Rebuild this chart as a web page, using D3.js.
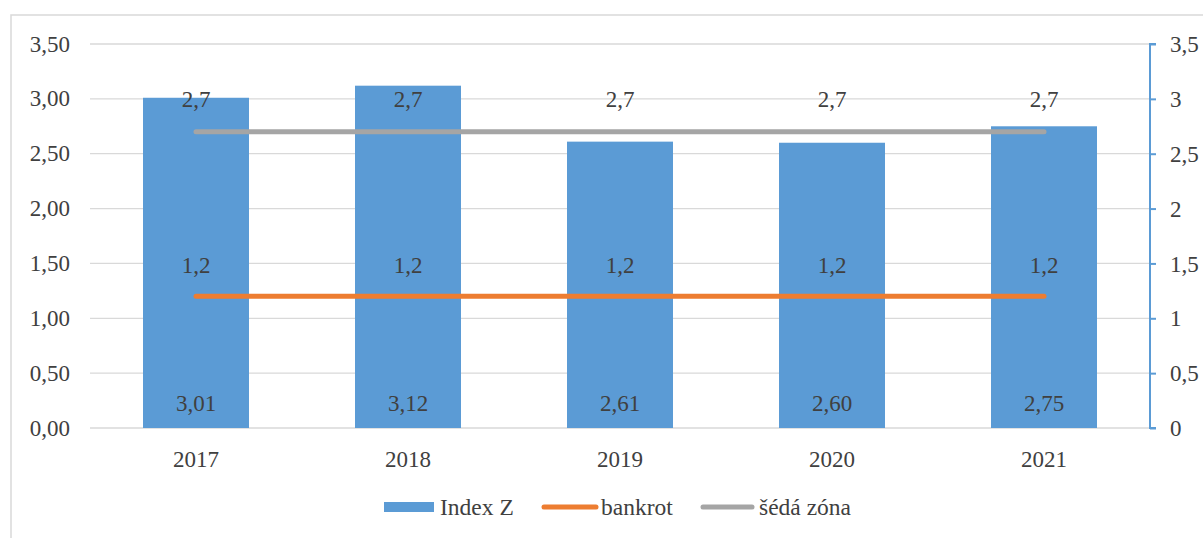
<!DOCTYPE html>
<html>
<head>
<meta charset="utf-8">
<script src="https://cdn.jsdelivr.net/npm/d3@7"></script>
<style>
  html, body { margin: 0; padding: 0; background: #fff; }
  svg { display: block; }
  svg text { font-family: "Liberation Serif", Tinos, "Times New Roman", "DejaVu Serif", serif !important; fill: #404040; }
</style>
</head>
<body>
<svg id="chart" width="1203" height="538" font-family="Liberation Serif, serif"></svg>
<script>
// Altman Z-score per year with the bankruptcy and grey-zone thresholds
const years = ["2017", "2018", "2019", "2020", "2021"];
const indexZ = [3.01, 3.12, 2.61, 2.60, 2.75];
const bankrot = [1.2, 1.2, 1.2, 1.2, 1.2];
const sedaZona = [2.7, 2.7, 2.7, 2.7, 2.7];
const leftTicks = [0, 0.5, 1, 1.5, 2, 2.5, 3, 3.5];
const rightTicks = [0, 0.5, 1, 1.5, 2, 2.5, 3, 3.5];

const colors = { bar: "#5B9BD5", bankrot: "#ED7D31", seda: "#A5A5A5", grid: "#D9D9D9" };
const fmt2 = d => d.toFixed(2).replace(".", ",");
const fmtR = d => String(d).replace(".", ",");
const FS = 23;
const FONT = "Liberation Serif, serif";

const svg = d3.select("#chart");

// chart frame
svg.append("rect")
  .attr("x", 11).attr("y", 15).attr("width", 1210).attr("height", 540)
  .attr("fill", "none").attr("stroke", colors.grid).attr("stroke-width", 1.5);

const plot = { left: 90, right: 1150, top: 44, bottom: 428 };

const x = d3.scaleBand().domain(years).range([plot.left, plot.right]).paddingInner(0).paddingOuter(0);
const y = d3.scaleLinear().domain([0, 3.5]).range([plot.bottom, plot.top]);
const y2 = d3.scaleLinear().domain([0, 3.5]).range([plot.bottom, plot.top]);

// gridlines
svg.append("g").selectAll("line").data(leftTicks).join("line")
  .attr("x1", plot.left).attr("x2", plot.right)
  .attr("y1", d => y(d)).attr("y2", d => y(d))
  .attr("stroke", colors.grid).attr("stroke-width", 1.3);

// left axis labels
svg.append("g").selectAll("text").data(leftTicks).join("text")
  .attr("x", 70).attr("y", d => y(d)).attr("dy", "0.33em")
  .attr("text-anchor", "end").attr("font-size", FS).attr("font-family", FONT)
  .text(fmt2);

// right axis
const rightAxis = d3.axisRight(y2).tickValues(rightTicks).tickSize(6).tickFormat(fmtR);
const gR = svg.append("g").attr("transform", `translate(${plot.right},0)`).call(rightAxis)
  .attr("font-family", FONT).attr("font-size", FS);
gR.select(".domain").attr("stroke", colors.bar).attr("stroke-width", 2).attr("d", `M6,${plot.top}H0V${plot.bottom}H6`);
gR.selectAll(".tick line").attr("stroke", colors.bar).attr("stroke-width", 2);
gR.selectAll(".tick text")
  .attr("x", 20).attr("dy", "0.33em").attr("text-anchor", "start").attr("fill", "#404040");

// bars
const barW = x.bandwidth() * 0.5;
svg.append("g").selectAll("rect").data(indexZ).join("rect")
  .attr("x", (d, i) => x(years[i]) + (x.bandwidth() - barW) / 2)
  .attr("y", d => y(d))
  .attr("width", barW)
  .attr("height", d => y(0) - y(d))
  .attr("fill", colors.bar);

// x labels
svg.append("g").selectAll("text").data(years).join("text")
  .attr("x", d => x(d) + x.bandwidth() / 2).attr("y", 459).attr("dy", "0.33em")
  .attr("text-anchor", "middle").attr("font-size", FS).attr("font-family", FONT)
  .text(d => d);

// threshold lines
const line = d3.line()
  .x((d, i) => x(years[i]) + x.bandwidth() / 2)
  .y(d => y2(d));

svg.append("path").datum(sedaZona).attr("d", line)
  .attr("fill", "none").attr("stroke", colors.seda).attr("stroke-width", 5).attr("stroke-linecap", "round");
svg.append("path").datum(bankrot).attr("d", line)
  .attr("fill", "none").attr("stroke", colors.bankrot).attr("stroke-width", 5).attr("stroke-linecap", "round");

// data labels
const cx = i => x(years[i]) + x.bandwidth() / 2;
svg.append("g").selectAll("text").data(sedaZona).join("text")
  .attr("x", (d, i) => cx(i)).attr("y", d => y2(d) - 32).attr("dy", "0.33em")
  .attr("text-anchor", "middle").attr("font-size", FS).attr("font-family", FONT).text(fmtR);
svg.append("g").selectAll("text").data(bankrot).join("text")
  .attr("x", (d, i) => cx(i)).attr("y", d => y2(d) - 31).attr("dy", "0.33em")
  .attr("text-anchor", "middle").attr("font-size", FS).attr("font-family", FONT).text(fmtR);
svg.append("g").selectAll("text").data(indexZ).join("text")
  .attr("x", (d, i) => cx(i)).attr("y", y(0) - 25).attr("dy", "0.33em")
  .attr("text-anchor", "middle").attr("font-size", FS).attr("font-family", FONT).text(fmt2);

// legend
const lg = svg.append("g").attr("font-family", FONT).attr("font-size", FS + 0.5);
lg.append("rect").attr("x", 384).attr("y", 502).attr("width", 50).attr("height", 10).attr("fill", colors.bar);
lg.append("text").attr("x", 440).attr("y", 507).attr("dy", "0.33em").text("Index Z");
lg.append("line").attr("x1", 544).attr("x2", 596).attr("y1", 507).attr("y2", 507)
  .attr("stroke", colors.bankrot).attr("stroke-width", 5).attr("stroke-linecap", "round");
lg.append("text").attr("x", 601).attr("y", 507).attr("dy", "0.33em").text("bankrot");
lg.append("line").attr("x1", 703).attr("x2", 752).attr("y1", 507).attr("y2", 507)
  .attr("stroke", colors.seda).attr("stroke-width", 5).attr("stroke-linecap", "round");
lg.append("text").attr("x", 759).attr("y", 507).attr("dy", "0.33em").text("šédá zóna");
</script>
</body>
</html>
